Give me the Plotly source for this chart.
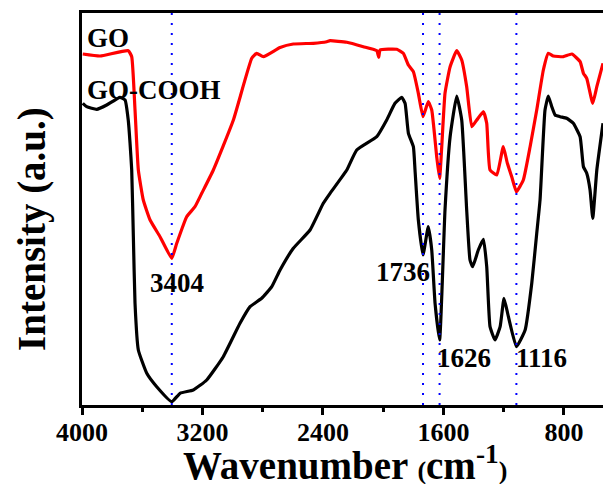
import plotly.graph_objects as go

# GO (red) spectrum: wavenumber (cm-1) and intensity (a.u.)
go_wn = [3995, 3880, 3693, 3670, 3648, 3626, 3593, 3548, 3482, 3404, 3371, 3305, 3250, 3205,
         3128, 2995, 2873, 2840, 2796, 2685, 2597, 2464, 2375, 2353, 2242, 2132, 2043, 2030,
         2021, 1910, 1867, 1833, 1800, 1767, 1736, 1701, 1678, 1645, 1626, 1590, 1556, 1512,
         1479, 1446, 1412, 1379, 1335, 1313, 1291, 1246, 1203, 1176, 1147, 1116, 1070, 1025,
         981, 937, 904, 871, 804, 748, 693, 671, 649, 609, 582, 541]
go_int = [351, 349, 354.3, 348.3, 295, 235, 205, 185, 168.3, 146.7, 161.7, 188.3, 198.3, 211.7,
          235, 285, 346.7, 351.7, 348.3, 357.5, 361, 361.7, 363.3, 364.3, 362.7, 358.3, 354.3, 347.7,
          355, 355.7, 351.7, 340, 333.3, 311.7, 288.3, 303.3, 295, 248.3, 226.7, 311.7, 338.3, 354.3,
          345, 318.3, 278.3, 285, 293.3, 281.7, 235, 230, 258.3, 241.7, 228.3, 213.3, 225, 258.3,
          295, 335, 351.7, 349, 348.3, 351, 343.3, 331.7, 326.7, 301.7, 318.3, 341.7]

# GO-COOH (black) spectrum
cooh_wn = [3995, 3969, 3902, 3836, 3748, 3714, 3693, 3681, 3670, 3659, 3648, 3626, 3570, 3504,
           3404, 3349, 3261, 3172, 3062, 2951, 2884, 2807, 2740, 2685, 2597, 2486, 2398, 2353,
           2242, 2176, 2043, 1977, 1922, 1877, 1855, 1833, 1800, 1789, 1767, 1736, 1701, 1678,
           1656, 1626, 1590, 1556, 1512, 1479, 1446, 1424, 1406, 1369, 1335, 1313, 1291, 1258,
           1224, 1198, 1169, 1116, 1058, 1014, 981, 959, 926, 904, 881, 859, 826, 782, 738,
           693, 671, 649, 627, 609, 582, 541]
cooh_int = [301.7, 298.3, 295.7, 300, 307.7, 305, 285, 261.7, 235, 168.3, 101.7, 55, 31.7, 18.3,
            3.3, 11.7, 15, 25, 48.3, 81.7, 98.3, 106.7, 118.3, 135, 156.7, 175, 201.7, 211.7,
            235, 255, 268.3, 285, 301.7, 307.7, 301.7, 271.7, 258.3, 235, 185, 150, 178.3, 155,
            101.7, 65, 195, 268.3, 309, 285, 195, 145, 138.3, 155, 165.7, 138.3, 78.3, 65,
            78.3, 106.7, 88.3, 58.3, 75, 121.7, 171.7, 205, 295, 309, 298.3, 290, 288.3, 286.7, 281.7,
            268.3, 238.3, 231.7, 215, 186.7, 235, 281.7]

peak_positions = [3404, 1736, 1626, 1116]
peak_labels = ["3404", "1736", "1626", "1116"]
major_ticks = [4000, 3200, 2400, 1600, 800]
minor_ticks = [3600, 2800, 2000, 1200]

SERIF = "Liberation Serif"

fig = go.Figure()
fig.add_trace(go.Scatter(x=cooh_wn, y=cooh_int, mode="lines", name="GO-COOH",
                         line=dict(color="black", width=3.2, shape="spline", smoothing=0.4)))
fig.add_trace(go.Scatter(x=go_wn, y=go_int, mode="lines", name="GO",
                         line=dict(color="#FF0000", width=3.2, shape="spline", smoothing=0.4)))

for p in peak_positions:
    fig.add_shape(type="line", xref="x", yref="paper", x0=p, x1=p, y0=0, y1=1,
                  line=dict(color="#0000FF", width=2, dash="2px,8px"), layer="above")

# peak label positions (data coords)
label_pos = [(3369, 122), (1870, 133), (1463, 47), (949, 47)]
for (lx, ly), t in zip(label_pos, peak_labels):
    fig.add_annotation(x=lx, y=ly, xref="x", yref="y", text="<b>%s</b>" % t, showarrow=False,
                       font=dict(family=SERIF, size=27, color="black"),
                       xanchor="center", yanchor="middle")

fig.add_annotation(x=0.0065, y=0.935, xref="paper", yref="paper", text="<b>GO</b>", showarrow=False,
                   font=dict(family=SERIF, size=27, color="black"), xanchor="left", yanchor="middle")
fig.add_annotation(x=0.0065, y=0.804, xref="paper", yref="paper", text="<b>GO-COOH</b>", showarrow=False,
                   font=dict(family=SERIF, size=27, color="black"), xanchor="left", yanchor="middle")

fig.add_annotation(x=-0.096, y=0.449, xref="paper", yref="paper", text="<b>Intensity (a.u.)</b>",
                   showarrow=False, textangle=-90,
                   font=dict(family=SERIF, size=39, color="black"), xanchor="center", yanchor="middle")
fig.add_annotation(x=0.505, y=-0.148, xref="paper", yref="paper",
                   text="<b>Wavenumber <span style='font-size:26px'>(</span>cm<sup>-1</sup><span style='font-size:26px'>)</span></b>",
                   showarrow=False,
                   font=dict(family=SERIF, size=39, color="black"), xanchor="center", yanchor="middle")

fig.update_layout(
    width=603, height=484,
    margin=dict(l=82, r=0, t=13, b=79),
    paper_bgcolor="white", plot_bgcolor="white",
    showlegend=False,
    xaxis=dict(range=[4000, 541], tickvals=major_ticks, ticktext=[str(v) for v in major_ticks],
               ticks="outside", ticklen=7, tickwidth=3, tickcolor="black",
               ticklabelstandoff=-5,
               showline=True, linewidth=3, linecolor="black", mirror=True,
               showgrid=False, zeroline=False,
               tickfont=dict(family=SERIF, size=26, color="black", weight="bold"),
               minor=dict(tickvals=minor_ticks, ticks="outside", ticklen=4, tickwidth=3, tickcolor="black")),
    yaxis=dict(range=[0, 392], showticklabels=False, ticks="", showgrid=False, zeroline=False,
               showline=True, linewidth=3, linecolor="black", mirror=False),
)

fig.write_html("out.html", config={"displayModeBar": False},
               post_script="document.body.style.margin='0';document.body.style.overflow='hidden';")
